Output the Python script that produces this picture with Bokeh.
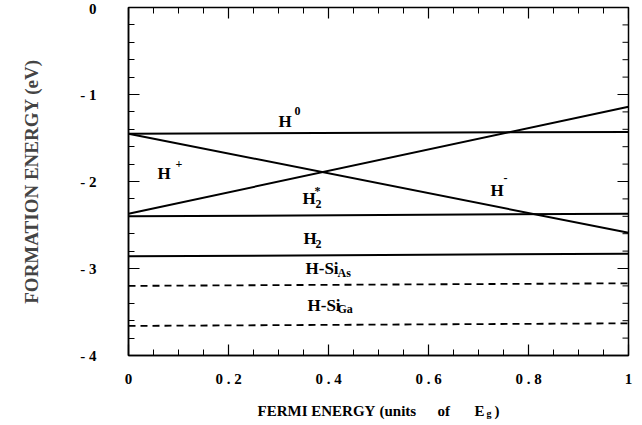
import numpy as np
from bokeh.plotting import figure
from bokeh.layouts import column
from bokeh.models import FixedTicker, ColumnDataSource
from bokeh.core.properties import value
from bokeh.embed import file_html
from bokeh.resources import INLINE

# ---- data ----
x_ends = [0.0, 1.0]
h0 = [-1.45, -1.43]
line_down = [-1.45, -2.59]     # passes H+ -> H- region
line_up = [-2.37, -1.14]
h2_star = [-2.40, -2.37]
h2 = [-2.86, -2.83]
h_si_as = [-3.20, -3.17]
h_si_ga = [-3.66, -3.63]

x_major = [0.0, 0.2, 0.4, 0.6, 0.8, 1.0]
x_minor = [round(i * 0.05, 2) for i in range(21)]
x_labels = {0.0: "0", 0.2: "0 . 2", 0.4: "0 . 4", 0.6: "0 . 6", 0.8: "0 . 8", 1.0: "1"}
y_major = [-4, -3, -2, -1, 0]
y_minor = [round(-4 + i * 0.2, 1) for i in range(21)]
y_labels = {0: "0", -1: "- 1", -2: "- 2", -3: "- 3", -4: "- 4"}

big_text = ["H", "H", "H", "H", "H", "H-Si", "H-Si"]
big_x = [0.30, 0.058, 0.348, 0.724, 0.35, 0.354, 0.358]
big_y = [-1.31, -1.91, -2.20, -2.10, -2.66, -3.00, -3.42]

small_text = ["0", "+", "2", "*", "-", "2", "As", "Ga"]
small_x = [0.332, 0.094, 0.374, 0.372, 0.75, 0.374, 0.418, 0.418]
small_y = [-1.19, -1.80, -2.26, -2.11, -1.96, -2.72, -3.05, -3.46]

xtitle_text = ["FERMI ENERGY", "(units", "of", "E", ")"]
xtitle_x = [0.258, 0.502, 0.618, 0.692, 0.732]
xtitle_y = [0.333] * 5
xsub_text = ["g"]
xsub_x = [0.716]
xsub_y = [0.233]

FONT = "Liberation Serif"

p = figure(width=636, height=390, x_range=(0, 1), y_range=(-4, 0),
           output_backend="svg", toolbar_location=None,
           min_border_left=128, min_border_right=8, min_border_top=7,
           min_border_bottom=35)
p.xgrid.visible = False
p.ygrid.visible = False
p.outline_line_color = "black"
p.outline_line_width = 1.5
p.background_fill_color = "white"
p.border_fill_color = "white"

for ax in (p.xaxis[0], p.yaxis[0]):
    ax.major_tick_in = 11
    ax.major_tick_out = 0
    ax.minor_tick_in = 6
    ax.minor_tick_out = 0
    ax.major_tick_line_width = 1.2
    ax.minor_tick_line_width = 1
    ax.axis_line_width = 1.5
    ax.major_label_text_font = FONT
    ax.major_label_text_font_style = "bold"
    ax.major_label_text_font_size = "15px"
    ax.major_label_text_color = "black"

p.xaxis[0].ticker = FixedTicker(ticks=x_major, minor_ticks=x_minor)
p.xaxis[0].major_label_overrides = x_labels
p.xaxis[0].major_label_standoff = 15
p.yaxis[0].ticker = FixedTicker(ticks=y_major, minor_ticks=y_minor)
p.yaxis[0].major_label_overrides = y_labels
p.yaxis[0].major_label_standoff = 32
p.yaxis[0].axis_label = "FORMATION ENERGY (eV)"
p.yaxis[0].axis_label_text_font = FONT
p.yaxis[0].axis_label_text_font_style = "bold"
p.yaxis[0].axis_label_text_font_size = "19px"
p.yaxis[0].axis_label_standoff = 35

# inward ticks on the top and right frame edges (dash markers half-clipped by the frame)
p.scatter(x_major, [0.0] * len(x_major), marker="dash", size=22, angle=np.pi / 2,
          line_color="black", line_width=1.2)
p.scatter(x_minor, [0.0] * len(x_minor), marker="dash", size=12, angle=np.pi / 2,
          line_color="black", line_width=1)
p.scatter([1.0] * len(y_major), y_major, marker="dash", size=22,
          line_color="black", line_width=1.2)
p.scatter([1.0] * len(y_minor), y_minor, marker="dash", size=12,
          line_color="black", line_width=1)

for ys in (h0, line_down, line_up, h2_star, h2):
    p.line(x_ends, ys, line_color="black", line_width=2)
for ys in (h_si_as, h_si_ga):
    p.line(x_ends, ys, line_color="black", line_width=1.8, line_dash="7 5")

p.text(x="x", y="y", text="t", source=ColumnDataSource(dict(x=big_x, y=big_y, t=big_text)),
       text_font=value(FONT), text_font_style="bold", text_font_size="17px",
       text_baseline="alphabetic", text_align="left", text_color="black")
p.text(x="x", y="y", text="t", source=ColumnDataSource(dict(x=small_x, y=small_y, t=small_text)),
       text_font=value(FONT), text_font_style="bold", text_font_size="12px",
       text_baseline="alphabetic", text_align="left", text_color="black")

# strip below the plot holding the x-axis title
p2 = figure(width=636, height=30, x_range=p.x_range, y_range=(0, 1),
            output_backend="svg", toolbar_location=None,
            min_border_left=128, min_border_right=8, min_border_top=0,
            min_border_bottom=0)
p2.axis.visible = False
p2.xgrid.visible = False
p2.ygrid.visible = False
p2.outline_line_color = None
p2.text(x="x", y="y", text="t",
        source=ColumnDataSource(dict(x=xtitle_x, y=xtitle_y, t=xtitle_text)),
        text_font=value(FONT), text_font_style="bold", text_font_size="15px",
        text_baseline="alphabetic", text_align="left", text_color="black")
p2.text(x="x", y="y", text="t",
        source=ColumnDataSource(dict(x=xsub_x, y=xsub_y, t=xsub_text)),
        text_font=value(FONT), text_font_style="bold", text_font_size="10px",
        text_baseline="alphabetic", text_align="left", text_color="black")

layout = column(p, p2, spacing=0)
open("out.html", "w").write(file_html(layout, INLINE))
